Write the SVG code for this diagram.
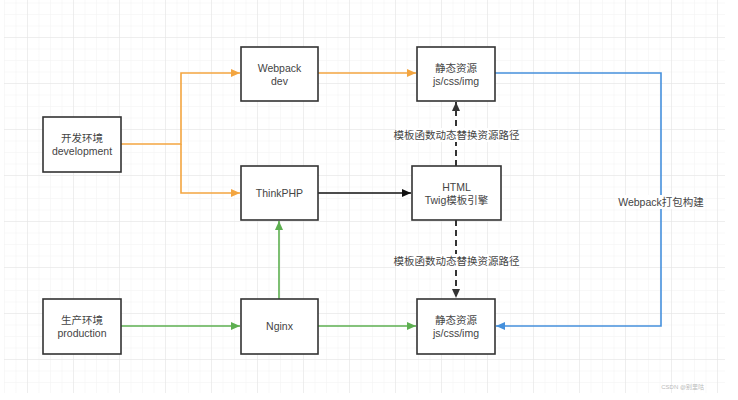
<svg xmlns="http://www.w3.org/2000/svg" width="738" height="400" viewBox="0 0 738 400">
<style>
.box{fill:#fff;stroke:#333;stroke-width:1.6}
.t{font-family:"Liberation Sans","Noto Sans CJK SC",sans-serif;font-size:10.5px;fill:#444;text-anchor:middle}
.c{fill:none;stroke-width:1.6}
.or{stroke:#F3A540}
.gr{stroke:#5DAF50}
.bl{stroke:#4590DC}
.bk{stroke:#111}
.ds{stroke:#333;stroke-width:2;stroke-dasharray:6 4}
</style>
<defs>
<pattern id="minor" x="27" y="37" width="11.5" height="11.5" patternUnits="userSpaceOnUse">
<path d="M0 0H11.5M0 0V11.5" fill="none" stroke="#f2f2f2" stroke-width="1"/>
</pattern>
<pattern id="major" x="27" y="37" width="46" height="46" patternUnits="userSpaceOnUse">
<path d="M0 0H46M0 0V46" fill="none" stroke="#e4e4e4" stroke-width="1"/>
</pattern>
<marker id="aO" markerUnits="userSpaceOnUse" markerWidth="10" markerHeight="10" refX="9" refY="5" orient="auto"><path d="M0 1L9 5L0 9Z" fill="#F3A540"/></marker>
<marker id="aG" markerUnits="userSpaceOnUse" markerWidth="10" markerHeight="10" refX="9" refY="5" orient="auto"><path d="M0 1L9 5L0 9Z" fill="#5DAF50"/></marker>
<marker id="aB" markerUnits="userSpaceOnUse" markerWidth="10" markerHeight="10" refX="9" refY="5" orient="auto"><path d="M0 1L9 5L0 9Z" fill="#4590DC"/></marker>
<marker id="aK" markerUnits="userSpaceOnUse" markerWidth="10" markerHeight="10" refX="9" refY="5" orient="auto"><path d="M0 1L9 5L0 9Z" fill="#111"/></marker>
<marker id="aD" markerUnits="userSpaceOnUse" markerWidth="10" markerHeight="10" refX="9" refY="5" orient="auto"><path d="M0 1L9 5L0 9Z" fill="#333"/></marker>
</defs>
<rect width="738" height="400" fill="#fff"/>
<rect x="4" y="0" width="721" height="393" fill="url(#minor)"/>
<rect x="4" y="0" width="721" height="393" fill="url(#major)"/>

<g id="connectors">
<path class="c or" d="M121 144H181V73H240" marker-end="url(#aO)"/>
<path class="c or" d="M181 144V193H240" marker-end="url(#aO)"/>
<path class="c or" d="M318 73H416" marker-end="url(#aO)"/>
<path class="c bk" d="M318 193H411" marker-end="url(#aK)"/>
<path class="c gr" d="M121 326H240" marker-end="url(#aG)"/>
<path class="c gr" d="M279 299V221" marker-end="url(#aG)"/>
<path class="c gr" d="M318 326H416" marker-end="url(#aG)"/>
<path class="c bl" d="M495 73H661V326H496" marker-end="url(#aB)"/>
<path class="c ds" d="M456 166V102" marker-end="url(#aD)"/>
<path class="c ds" d="M456 220V298" marker-end="url(#aD)"/>
<rect x="396" y="128" width="121" height="14" fill="#fff"/>
<text class="t" x="456.5" y="139" font-size="10">模板函数动态替换资源路径</text>
<rect x="396" y="254" width="121" height="14" fill="#fff"/>
<text class="t" x="456.5" y="265" font-size="10">模板函数动态替换资源路径</text>
<rect x="618" y="195" width="86" height="14" fill="#fff"/>
<text class="t" x="661" y="206">Webpack打包构建</text>
</g>

<g id="dev"><rect class="box" x="43" y="117" width="78" height="55"/><text class="t" x="82" y="142">开发环境</text><text class="t" x="82" y="155">development</text></g>
<g id="webpackdev"><rect class="box" x="241" y="47" width="77" height="54"/><text class="t" x="279.5" y="72">Webpack</text><text class="t" x="279.5" y="84.5">dev</text></g>
<g id="thinkphp"><rect class="box" x="241" y="166" width="77" height="54"/><text class="t" x="279.5" y="197">ThinkPHP</text></g>
<g id="prod"><rect class="box" x="43" y="299" width="78" height="55"/><text class="t" x="82" y="324">生产环境</text><text class="t" x="82" y="337">production</text></g>
<g id="nginx"><rect class="box" x="241" y="299" width="77" height="55"/><text class="t" x="279.5" y="330">Nginx</text></g>
<g id="static1"><rect class="box" x="417" y="47" width="78" height="54"/><text class="t" x="456" y="72">静态资源</text><text class="t" x="456" y="84.5">js/css/img</text></g>
<g id="html"><rect class="box" x="412" y="166" width="89" height="54"/><text class="t" x="456.5" y="191">HTML</text><text class="t" x="456.5" y="203.5">Twig模板引擎</text></g>
<g id="static2"><rect class="box" x="417" y="299" width="78" height="55"/><text class="t" x="456" y="324">静态资源</text><text class="t" x="456" y="337">js/css/img</text></g>
<text x="704" y="389" font-family="'Liberation Sans','Noto Sans CJK SC',sans-serif" font-size="6" fill="#bbb" text-anchor="end">CSDN @别里咕</text>
</svg>
